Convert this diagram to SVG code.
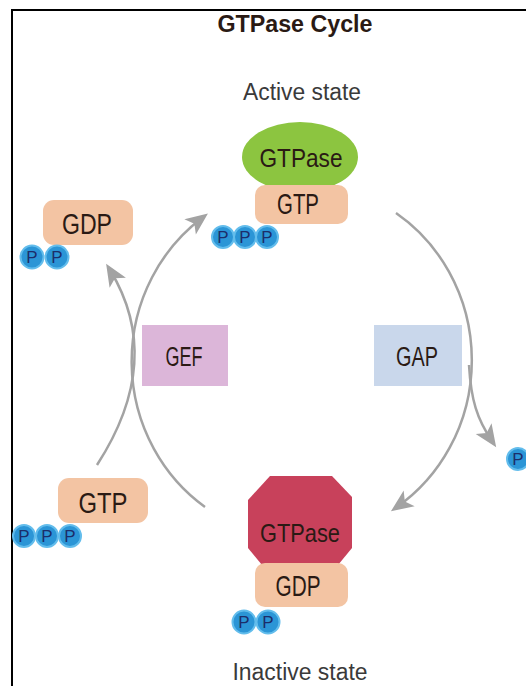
<svg xmlns="http://www.w3.org/2000/svg" width="526" height="686" viewBox="0 0 526 686">
<style>
.t{font-family:"Liberation Sans",Arial,sans-serif;fill:#2a1a14;text-anchor:middle}
.lbl{font-family:"Liberation Sans",Arial,sans-serif;fill:#3a3a3a;text-anchor:middle}
.nuc{fill:#f3c4a3}
.p{fill:#2b95d6;stroke:#63bdec;stroke-width:2}
.pt{font-family:"Liberation Sans",Arial,sans-serif;font-size:17px;fill:#1c2d6a;text-anchor:middle}
.arc{fill:none;stroke:#a3a3a3;stroke-width:2.5}
</style>
<defs>
<marker id="ah" markerUnits="userSpaceOnUse" markerWidth="34" markerHeight="34" viewBox="-22 -12 32 24" refX="0" refY="0" orient="auto">
<path d="M7,0 L-14,-9 L-9,0 L-14,9 Z" fill="#a3a3a3"/>
</marker>
</defs>
<rect x="12" y="10" width="620" height="700" fill="#ffffff" stroke="#000000" stroke-width="2"/>
<text class="t" x="295" y="32" font-size="23" font-weight="bold" fill="#111" textLength="155" lengthAdjust="spacingAndGlyphs">GTPase Cycle</text>
<g id="connectors">
<path class="arc" d="M205,507 A170 177 0 0 1 202,218" marker-end="url(#ah)"/>
<path class="arc" d="M396,213 A170 177 0 0 1 397,507" marker-end="url(#ah)"/>
<path class="arc" d="M97,465 Q165,360 110,270" marker-end="url(#ah)"/>
<path class="arc" d="M469,365 C471,400 477,419 492,441" marker-end="url(#ah)"/>
</g>
<g id="active-label"><text class="lbl" x="302" y="100" font-size="23" textLength="118" lengthAdjust="spacingAndGlyphs">Active state</text></g>
<g id="active-gtpase">
<ellipse cx="300" cy="157" rx="58" ry="35" fill="#8cc540"/>
<text class="t" x="301" y="167" font-size="25" textLength="83" lengthAdjust="spacingAndGlyphs">GTPase</text>
</g>
<g id="active-gtp">
<rect class="nuc" x="255" y="185" width="93" height="39" rx="10"/>
<text class="t" x="298" y="214" font-size="29" textLength="42" lengthAdjust="spacingAndGlyphs">GTP</text>
<circle class="p" cx="223" cy="237" r="11"/><circle class="p" cx="245" cy="237" r="11"/><circle class="p" cx="267" cy="237" r="11"/>
<text class="pt" x="223" y="243">P</text><text class="pt" x="245" y="243">P</text><text class="pt" x="267" y="243">P</text>
</g>
<g id="gdp-released">
<rect class="nuc" x="43" y="200" width="90" height="45" rx="11"/>
<text class="t" x="87" y="234" font-size="29" textLength="50" lengthAdjust="spacingAndGlyphs">GDP</text>
<circle class="p" cx="32" cy="257" r="11.5"/><circle class="p" cx="57" cy="257" r="11.5"/>
<text class="pt" x="32" y="263">P</text><text class="pt" x="57" y="263">P</text>
</g>
<g id="gtp-free">
<rect class="nuc" x="58" y="478" width="90" height="45" rx="11"/>
<text class="t" x="103" y="513" font-size="29" textLength="49" lengthAdjust="spacingAndGlyphs">GTP</text>
<circle class="p" cx="24" cy="536" r="11"/><circle class="p" cx="47" cy="536" r="11"/><circle class="p" cx="70" cy="536" r="11"/>
<text class="pt" x="24" y="542">P</text><text class="pt" x="47" y="542">P</text><text class="pt" x="70" y="542">P</text>
</g>
<g id="gef">
<rect x="142" y="325" width="86" height="61" fill="#dcb6d9"/>
<text class="t" x="184" y="366" font-size="27" textLength="37" lengthAdjust="spacingAndGlyphs">GEF</text>
</g>
<g id="gap">
<rect x="374" y="325" width="88" height="61" fill="#c9d7eb"/>
<text class="t" x="417" y="366" font-size="27" textLength="42" lengthAdjust="spacingAndGlyphs" fill="#1e2535">GAP</text>
</g>
<g id="pi-released">
<circle class="p" cx="518" cy="459" r="11"/>
<text class="pt" x="518" y="465">P</text>
</g>
<g id="inactive-gtpase">
<polygon points="248,500 270,476 332,476 352,497 352,548 338,565 262,565 248,548" fill="#c8415b"/>
<text class="t" x="300" y="542" font-size="26" fill="#4a0f1c" textLength="80" lengthAdjust="spacingAndGlyphs">GTPase</text>
</g>
<g id="inactive-gdp">
<rect class="nuc" x="255" y="563" width="93" height="44" rx="10"/>
<text class="t" x="298" y="596" font-size="29" textLength="45" lengthAdjust="spacingAndGlyphs">GDP</text>
<circle class="p" cx="244" cy="622" r="11.5"/><circle class="p" cx="268" cy="622" r="11.5"/>
<text class="pt" x="244" y="628">P</text><text class="pt" x="268" y="628">P</text>
</g>
<g id="inactive-label"><text class="lbl" x="300" y="680" font-size="23" textLength="135" lengthAdjust="spacingAndGlyphs">Inactive state</text></g>
</svg>
